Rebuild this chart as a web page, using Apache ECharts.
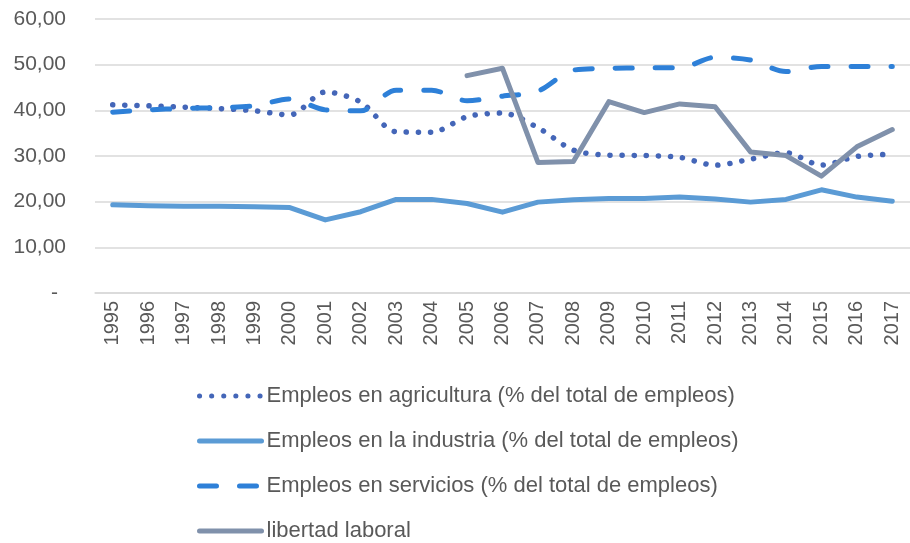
<!DOCTYPE html>
<html>
<head>
<meta charset="utf-8">
<script src="https://cdn.jsdelivr.net/npm/echarts@6/dist/echarts.min.js"></script>
<style>
  html, body { margin: 0; padding: 0; background: #fff; }
  #chart { width: 910px; height: 543px; }
</style>
</head>
<body>
<div id="chart"></div>
<script>
const years = ['1995', '1996', '1997', '1998', '1999', '2000', '2001', '2002', '2003', '2004', '2005', '2006',
  '2007', '2008', '2009', '2010', '2011', '2012', '2013', '2014', '2015', '2016', '2017']

const agricultura = [41.2, 41.0, 40.7, 40.4, 39.9, 39.0, 44.0, 41.8, 35.3, 35.2, 38.6, 39.4,
  36.2, 31.3, 30.2, 30.1, 29.7, 28.0, 29.3, 30.7, 28.0, 29.9, 30.4]
const industria = [19.3, 19.1, 19.0, 19.0, 18.9, 18.7, 16.0, 17.8, 20.5, 20.5, 19.6, 17.7,
  19.9, 20.4, 20.7, 20.7, 21.0, 20.6, 19.9, 20.5, 22.6, 21.0, 20.1]
const servicios = [39.6, 40.1, 40.4, 40.6, 41.0, 42.5, 40.1, 39.9, 44.4, 44.4, 42.1, 43.1,
  44.2, 48.8, 49.2, 49.3, 49.3, 51.6, 51.0, 48.5, 49.6, 49.6, 49.6]
const libertad = [null, null, null, null, null, null, null, null, null, null, 47.6, 49.2,
  28.6, 28.8, 41.9, 39.5, 41.4, 40.8, 30.9, 30.1, 25.6, 32.0, 35.8]

const names = [
  'Empleos en agricultura (% del total de empleos)',
  'Empleos en la industria (% del total de empleos)',
  'Empleos en servicios (% del total de empleos)',
  'libertad laboral'
]

const fontFamily = '"Liberation Sans", Arial, sans-serif'
const textColor = '#595959'

const chart = echarts.init(document.getElementById('chart'), null, { renderer: 'canvas' })

chart.setOption({
  animation: false,
  grid: {
    top: 19,
    left: 95,
    right: -8,
    bottom: 250
  },
  legend: {
    orient: 'vertical',
    left: 197,
    top: 385,
    padding: 0,
    height: 160,
    itemWidth: 62,
    itemHeight: 14,
    itemGap: 23,
    itemStyle: { opacity: 0 },
    lineStyle: { width: 5, cap: 'round' },
    textStyle: {
      color: textColor,
      fontSize: 22,
      lineHeight: 22,
      fontFamily: fontFamily
    },
    data: names
  },
  xAxis: {
    type: 'category',
    data: years,
    boundaryGap: true,
    axisLine: { lineStyle: { color: '#d9d9d9', width: 1.5 } },
    axisTick: { show: false },
    axisLabel: {
      rotate: 90,
      margin: 8,
      color: textColor,
      fontSize: 20,
      fontFamily: fontFamily
    }
  },
  yAxis: {
    type: 'value',
    min: 0,
    max: 60,
    interval: 10,
    axisLine: { show: false },
    axisTick: { show: false },
    splitLine: { lineStyle: { color: '#d9d9d9', width: 1.5 } },
    axisLabel: {
      margin: 29,
      color: textColor,
      fontSize: 21,
      fontFamily: fontFamily,
      formatter: v => v === 0 ? '{d|-}' : v.toFixed(2).replace('.', ','),
      rich: {
        d: { padding: [0, 8, 0, 0], color: textColor, fontSize: 21, fontFamily: fontFamily }
      }
    }
  },
  series: [
    {
      name: names[0],
      type: 'line',
      data: agricultura,
      symbol: 'none',
      smooth: 0.3,
      z: 3,
      itemStyle: { color: '#4466b8' },
      lineStyle: { color: '#4466b8', width: 5.5, type: [0.1, 12], cap: 'round' }
    },
    {
      name: names[1],
      type: 'line',
      data: industria,
      symbol: 'none',
      z: 2,
      itemStyle: { color: '#5b9bd5' },
      lineStyle: { color: '#5b9bd5', width: 5, cap: 'round', join: 'round' }
    },
    {
      name: names[2],
      type: 'line',
      data: servicios,
      symbol: 'none',
      smooth: 0.3,
      z: 4,
      itemStyle: { color: '#2e80d8' },
      lineStyle: { color: '#2e80d8', width: 5, type: [17, 23], cap: 'round' }
    },
    {
      name: names[3],
      type: 'line',
      data: libertad,
      symbol: 'none',
      z: 5,
      itemStyle: { color: '#8091ab' },
      lineStyle: { color: '#8091ab', width: 5, cap: 'round', join: 'round' }
    }
  ]
})
</script>
</body>
</html>
